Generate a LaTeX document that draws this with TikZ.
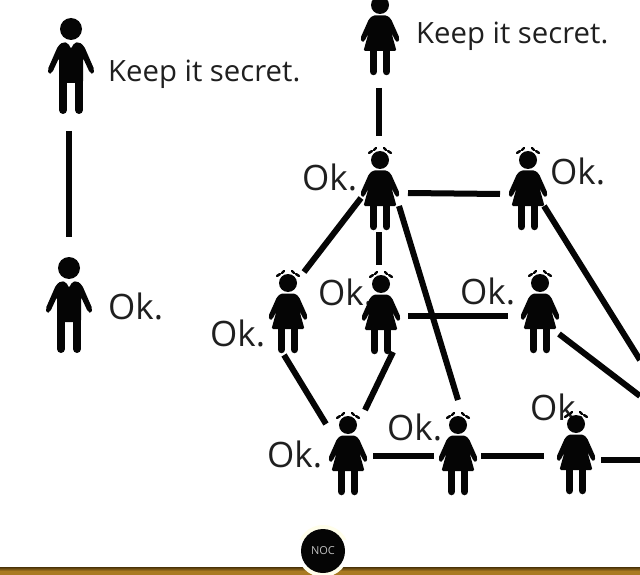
\documentclass[tikz,border=0pt]{standalone}
\usepackage{fontspec}
\setmainfont{Open Sans}
\definecolor{ink}{HTML}{050505}
\definecolor{gold}{HTML}{A97A22}
\definecolor{golddark}{HTML}{4A3208}
\tikzset{
  link/.style={draw=ink,line width=6pt},
  say/.style={font=\fontsize{29.3pt}{32pt}\selectfont,text=black!88,inner sep=0pt,anchor=base west},
  sayok/.style={say,font=\fontsize{35pt}{38pt}\selectfont},
  man/.pic={
    \fill[ink] (0,0) circle (11);
    \fill[ink,rounded corners=2pt] (-8,13) -- (-3,14) -- (0,20) -- (3,14) -- (8,13) -- (13,17) -- (23.5,41) -- (22,45) -- (19,44) -- (12,29) -- (12,54) -- (-12,54) -- (-12,29) -- (-19,44) -- (-22,45) -- (-23.5,41) -- (-13,17) -- cycle;
    \foreach \s in {-1,1}{
      \draw[ink,line width=8pt,line cap=round] (\s*8,50) -- (\s*8,81);
    }
  },
  woman/.pic={
    \fill[ink] (0,0) circle (9);
    \foreach \s in {-1,1}{
      \draw[ink,line width=2.4pt,line cap=round] (\s*11,-7) -- (\s*8,-9);
      \draw[ink,line width=2.4pt,line cap=round] (\s*6,-10) -- (\s*4,-12);
    }
    \fill[ink,rounded corners=1.5pt] (-7,10.5) -- (7,10.5) -- (11,14) -- (19.5,33) -- (18,37.5) -- (15.5,36) -- (11.5,28) -- (16.5,46) -- (-16.5,46) -- (-11.5,28) -- (-15.5,36) -- (-18,37.5) -- (-19.5,33) -- (-11,14) -- cycle;
    \foreach \s in {-1,1}{
      \draw[ink,line width=7.5pt,line cap=round] (\s*6.5,46) -- (\s*6.5,66.5);
    }
  }
}
\begin{document}
\begin{tikzpicture}[x=1pt,y=-1pt]
\useasboundingbox (0,0) rectangle (640,575);
\fill[white] (0,0) rectangle (640,575);
% texts below the figures
\node[say] (t1) at (108,82) {Keep it secret.};
\node[say] (t2) at (416,44) {Keep it secret.};
\node[sayok] (t3) at (108,319) {Ok.};
\node[sayok] (t4) at (302,190) {Ok.};
\node[sayok] (t5) at (550,184) {Ok.};
\node[sayok] (t6) at (210,346) {Ok.};
\node[sayok] (t7) at (318,305) {Ok.};
\node[sayok] (t8) at (460,304) {Ok.};
\node[sayok] (t9) at (387,440) {Ok.};
\node[sayok] (t10) at (267,467) {Ok.};
\node[sayok] (t11) at (530,420) {Ok.};
% figures
\pic at (71,29) {man};
\pic at (69,268) {man};
\pic at (380,5) {woman};
\pic at (380,160) {woman};
\pic at (528,160) {woman};
\pic at (288,283) {woman};
\pic at (381,284) {woman};
\pic at (540,283) {woman};
\pic at (348,425) {woman};
\pic at (458,425) {woman};
\pic at (576,424) {woman};
% connector ends
\coordinate (a1) at (69,131); \coordinate (a2) at (69,237);
\coordinate (b1) at (379,88); \coordinate (b2) at (379,136);
\coordinate (c1) at (408,193); \coordinate (c2) at (500,194);
\coordinate (d1) at (361,198); \coordinate (d2) at (304,272);
\coordinate (e1) at (379,232); \coordinate (e2) at (379,265);
\coordinate (f1) at (399,206); \coordinate (f2) at (458,400);
\coordinate (g1) at (408,316); \coordinate (g2) at (508,316);
\coordinate (h1) at (544,206); \coordinate (h2) at (640,360);
\coordinate (i1) at (559,334); \coordinate (i2) at (640,396);
\coordinate (j1) at (284,355); \coordinate (j2) at (326,424);
\coordinate (k1) at (393,352); \coordinate (k2) at (365,410);
\coordinate (l1) at (373,456); \coordinate (l2) at (434,456);
\coordinate (m1) at (481,456); \coordinate (m2) at (544,456);
\coordinate (n1) at (601,460); \coordinate (n2) at (640,460);
\foreach \p/\q in {a1/a2,b1/b2,c1/c2,d1/d2,e1/e2,f1/f2,g1/g2,h1/h2,i1/i2,j1/j2,k1/k2,l1/l2,m1/m2,n1/n2}{
  \path[link] (\p) -- (\q);
}
% bottom band
\shade[top color=golddark,bottom color=gold,middle color=gold] (0,567) rectangle (640,575);
\fill[white!92!yellow] (323,551) circle (26);
\fill[white] (290,540) rectangle (356,566.5);
\node[circle,fill=ink,minimum size=44pt,inner sep=0pt,text=black!25,font=\fontsize{11pt}{12pt}\selectfont] (noc) at (323,551) {NOC};
\end{tikzpicture}
\end{document}
